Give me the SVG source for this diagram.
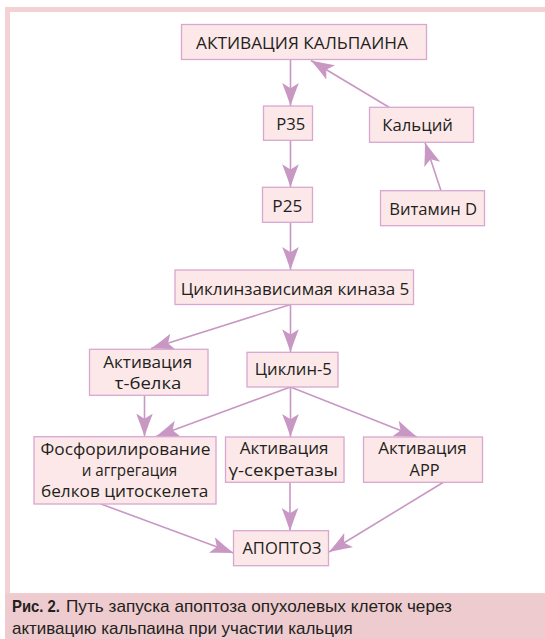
<svg xmlns="http://www.w3.org/2000/svg" width="545" height="639" viewBox="0 0 545 639">
<style>
.box{fill:#fce8e9;stroke:#d8a7d0;stroke-width:1.3}
.t{font-family:"Open Sans","Noto Sans","DejaVu Sans",sans-serif;font-size:17px;fill:#231f20;text-anchor:middle}
.c{stroke:#c997c3;stroke-width:1.6;fill:none;marker-end:url(#ah)}
.cap{font-family:"Liberation Sans","Arial",sans-serif;font-size:17px;fill:#231f20}
</style>
<defs>
<marker id="ah" markerUnits="userSpaceOnUse" markerWidth="24" markerHeight="20" viewBox="0 -9 23 18" refX="22" refY="0" orient="auto">
<path d="M0,-8 Q10,-4 22,0 Q10,4 0,8 L5,0 Z" fill="#c997c3"/>
</marker>
</defs>
<rect x="5" y="7" width="545" height="632" fill="#f4d1d4"/>
<rect x="10" y="12" width="540" height="581" fill="#ffffff"/>
<rect x="5" y="593.5" width="545" height="45.5" fill="#eecbce"/>
<g id="connectors">
<path class="c" d="M290.5,60 L290.5,106"/>
<path class="c" d="M389,107.3 L311,60.5"/>
<path class="c" d="M290.5,140.3 L290.5,187.3"/>
<path class="c" d="M441,190.7 L425,142.5"/>
<path class="c" d="M290.5,222.3 L290.5,270"/>
<path class="c" d="M290.5,304.5 L151,348.5"/>
<path class="c" d="M290.5,304.5 L290.5,352.3"/>
<path class="c" d="M144.5,395.5 L144.5,436.5"/>
<path class="c" d="M290.5,387 L156,436.5"/>
<path class="c" d="M290.5,387 L290.5,437"/>
<path class="c" d="M290.5,387 L417,437"/>
<path class="c" d="M101,504 L233.5,553"/>
<path class="c" d="M290,482.5 L290,531"/>
<path class="c" d="M443,482.5 L329,552"/>
</g>
<g id="n-calpain"><rect class="box" x="181.5" y="24.5" width="245" height="35"/><text class="t" x="302" y="49" textLength="212" lengthAdjust="spacingAndGlyphs">АКТИВАЦИЯ КАЛЬПАИНА</text></g>
<g id="n-p35"><rect class="box" x="263.5" y="106" width="49" height="34.3"/><text class="t" x="290.7" y="130" textLength="29" lengthAdjust="spacingAndGlyphs">P35</text></g>
<g id="n-calcium"><rect class="box" x="369.5" y="107.3" width="104" height="35"/><text class="t" x="417.6" y="131" textLength="70.6" lengthAdjust="spacingAndGlyphs">Кальций</text></g>
<g id="n-p25"><rect class="box" x="262.5" y="187.3" width="50" height="35"/><text class="t" x="287.3" y="211.7" textLength="30" lengthAdjust="spacingAndGlyphs">P25</text></g>
<g id="n-vitd"><rect class="box" x="380.5" y="190.7" width="104" height="35"/><text class="t" x="433.2" y="215" textLength="88" lengthAdjust="spacingAndGlyphs">Витамин D</text></g>
<g id="n-cdk5"><rect class="box" x="175" y="270" width="238.5" height="34.5"/><text class="t" x="295" y="295" textLength="228.7" lengthAdjust="spacingAndGlyphs">Циклинзависимая киназа 5</text></g>
<g id="n-tau"><rect class="box" x="89.5" y="349.3" width="118.5" height="46"/><text class="t" x="147.7" y="367.5" textLength="89" lengthAdjust="spacingAndGlyphs">Активация</text><text class="t" x="148" y="389" textLength="66.7" lengthAdjust="spacingAndGlyphs">τ-белка</text></g>
<g id="n-cyclin5"><rect class="box" x="247" y="352.3" width="91" height="34.7"/><text class="t" x="293.3" y="375" textLength="77" lengthAdjust="spacingAndGlyphs">Циклин-5</text></g>
<g id="n-phos"><rect class="box" x="34" y="436.7" width="182" height="67.3"/><text class="t" x="125.5" y="455" textLength="170" lengthAdjust="spacingAndGlyphs">Фосфорилирование</text><text class="t" x="129.5" y="476" textLength="95.6" lengthAdjust="spacingAndGlyphs">и аггрегация</text><text class="t" x="124.7" y="497" textLength="167.5" lengthAdjust="spacingAndGlyphs">белков цитоскелета</text></g>
<g id="n-gamma"><rect class="box" x="225.5" y="437" width="118.5" height="45.3"/><text class="t" x="284.1" y="454" textLength="88.7" lengthAdjust="spacingAndGlyphs">Активация</text><text class="t" x="283.1" y="476" textLength="109.4" lengthAdjust="spacingAndGlyphs">γ-секретазы</text></g>
<g id="n-app"><rect class="box" x="363.5" y="437" width="119" height="45.3"/><text class="t" x="422.5" y="454" textLength="88.6" lengthAdjust="spacingAndGlyphs">Активация</text><text class="t" x="424.6" y="476" textLength="30" lengthAdjust="spacingAndGlyphs">APP</text></g>
<g id="n-apoptosis"><rect class="box" x="233.5" y="530.7" width="95" height="35"/><text class="t" x="281.9" y="554" textLength="79" lengthAdjust="spacingAndGlyphs">АПОПТОЗ</text></g>
<g id="caption">
<text class="cap" x="12" y="612" font-weight="bold" textLength="48" lengthAdjust="spacingAndGlyphs">Рис. 2.</text>
<text class="cap" x="66" y="612" textLength="386" lengthAdjust="spacingAndGlyphs">Путь запуска апоптоза опухолевых клеток через</text>
<text class="cap" x="12" y="634" textLength="340.6" lengthAdjust="spacingAndGlyphs">активацию кальпаина при участии кальция</text>
</g>
</svg>
